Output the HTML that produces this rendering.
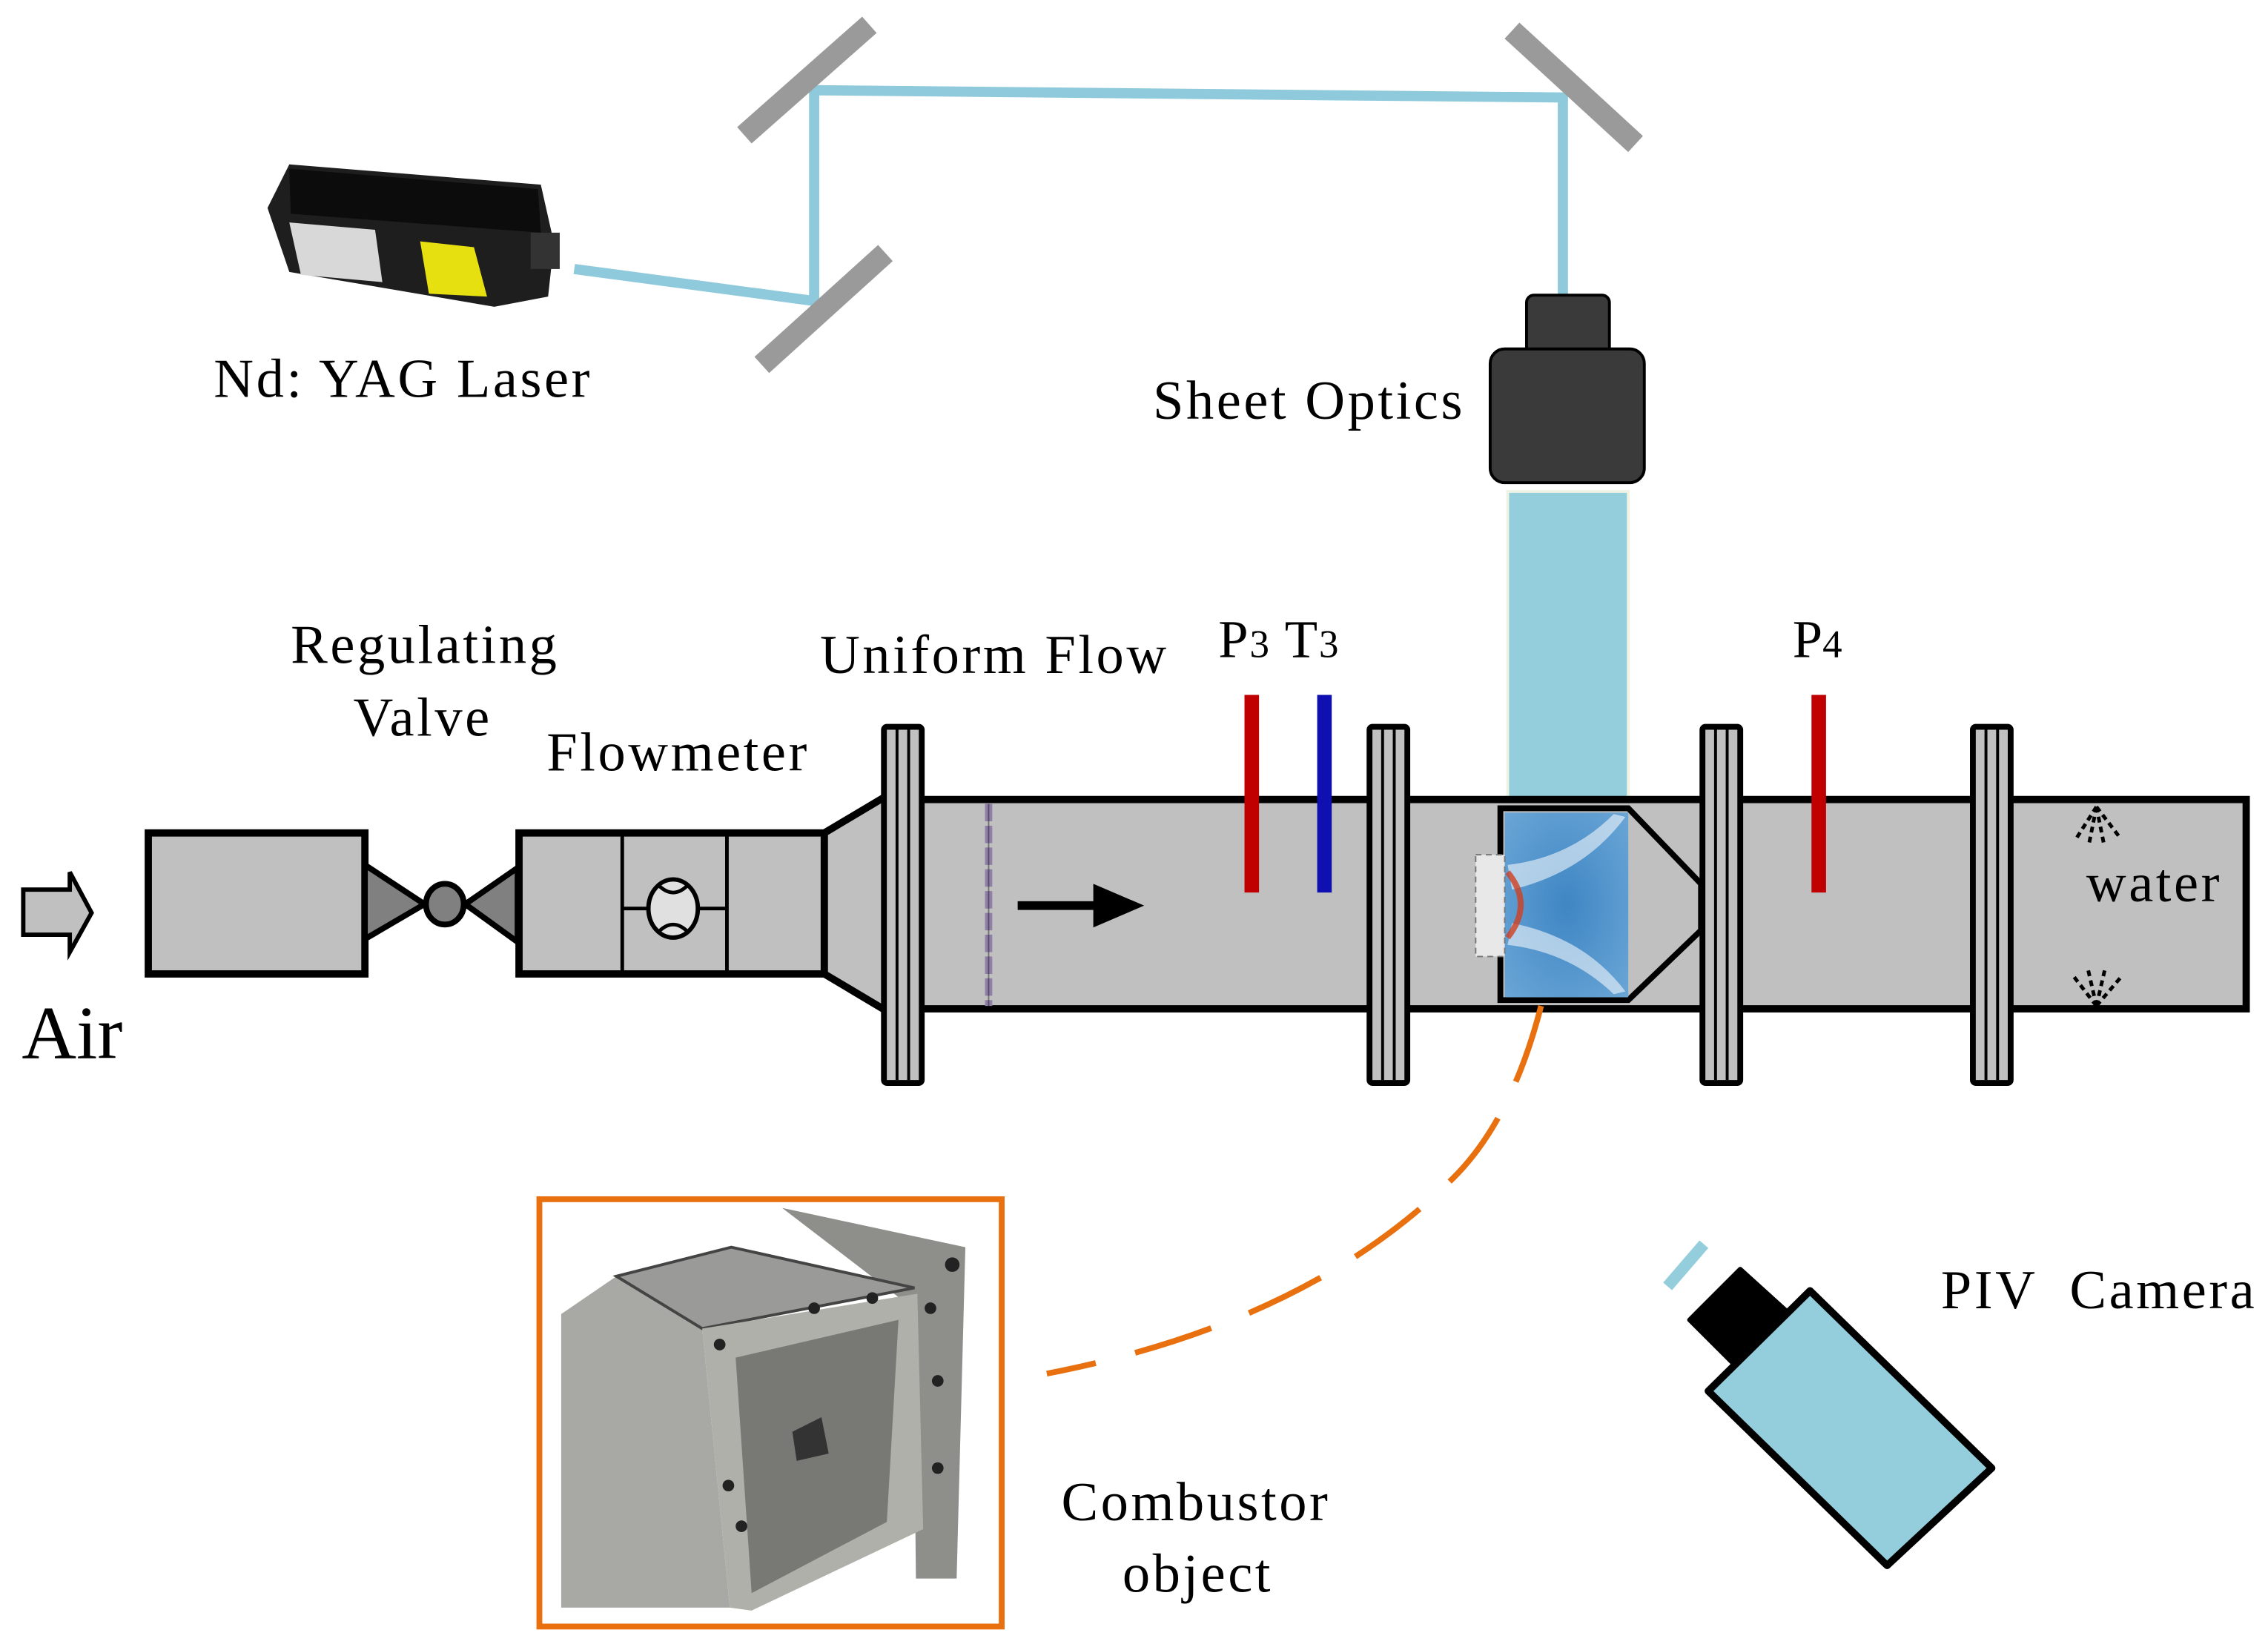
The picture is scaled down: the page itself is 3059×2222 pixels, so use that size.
<!DOCTYPE html>
<html><head><meta charset="utf-8"><style>html,body{margin:0;padding:0;background:#fff}svg{display:block}</style></head><body>
<svg width="3059" height="2222" viewBox="0 0 1560 1133" xmlns="http://www.w3.org/2000/svg" font-family="'Liberation Serif', serif">
<defs>
<radialGradient id="cg" cx="0.5" cy="0.5" r="0.7">
<stop offset="0" stop-color="#3f86c4"/><stop offset="1" stop-color="#6aa6d6"/>
</radialGradient>
</defs>
<rect width="1560" height="1133" fill="#fff"/>
<polyline points="395,185 560,207 560,62 1075,67 1075,212" fill="none" stroke="#8ecadb" stroke-width="7"/>
<line x1="512" y1="93" x2="598" y2="17" stroke="#9a9a9a" stroke-width="15"/>
<line x1="524" y1="251" x2="609" y2="174" stroke="#9a9a9a" stroke-width="15"/>
<line x1="1040" y1="21" x2="1125" y2="99" stroke="#9a9a9a" stroke-width="15"/>
<polygon points="184,143 199,113 372,127 381,167 377,204 340,211 199,187" fill="#1e1e1e"/>
<polygon points="199,116 370,130 372,160 200,147" fill="#0c0c0c"/>
<polygon points="199,153 258,158 263,194 207,189" fill="#d8d8d8"/>
<polygon points="289,166 326,170 335,204 295,202" fill="#e6e010"/>
<rect x="365" y="160" width="20" height="25" fill="#333"/>
<g font-size="38" letter-spacing="1.8">
<text x="147" y="273">Nd: YAG Laser</text>
<text x="793" y="288">Sheet Optics</text>
<text x="200" y="456">Regulating</text>
<text x="243" y="506">Valve</text>
<text x="376" y="530">Flowmeter</text>
<text x="564" y="463">Uniform Flow</text>
<text x="730" y="1046">Combustor</text>
<text x="772" y="1095">object</text>
<text x="1335" y="900" xml:space="preserve">PIV  Camera</text>
</g>
<rect x="1050" y="203" width="57" height="50" rx="5" fill="#3a3a3a" stroke="#000" stroke-width="2"/>
<rect x="1025" y="240" width="106" height="92" rx="10" fill="#3a3a3a" stroke="#000" stroke-width="2"/>
<rect x="1037" y="338" width="83" height="211" fill="#94cedc" stroke="#eef4e4" stroke-width="2"/>
<polygon points="16,612 48,612 48,600 63,628 48,655 48,643 16,643" fill="#c0c0c0" stroke="#000" stroke-width="3"/>
<text x="15" y="728" font-size="52">Air</text>
<rect x="102" y="573" width="149" height="97" fill="#c0c0c0" stroke="#000" stroke-width="5"/>
<polygon points="251,595 292,622 251,646" fill="#808080" stroke="#000" stroke-width="4"/>
<polygon points="356,597 320,622 356,648" fill="#808080" stroke="#000" stroke-width="4"/>
<ellipse cx="306" cy="622" rx="13" ry="14" fill="#808080" stroke="#000" stroke-width="4"/>
<rect x="357" y="573" width="210" height="97" fill="#c0c0c0" stroke="#000" stroke-width="5"/>
<line x1="428" y1="575" x2="428" y2="668" stroke="#000" stroke-width="2.5"/>
<line x1="500" y1="575" x2="500" y2="668" stroke="#000" stroke-width="2.5"/>
<line x1="428" y1="625" x2="500" y2="625" stroke="#000" stroke-width="2.5"/>
<ellipse cx="463" cy="625" rx="17" ry="20" fill="#e0e0e0" stroke="#000" stroke-width="3"/>
<path d="M452,608 Q463,620 474,608 M452,642 Q463,630 474,642" fill="none" stroke="#000" stroke-width="2.5"/>
<polygon points="567,573 609,548 609,695 567,670" fill="#c0c0c0" stroke="#000" stroke-width="5" stroke-linejoin="round"/>
<rect x="609" y="550" width="936" height="144" fill="#c0c0c0" stroke="#000" stroke-width="5"/>
<text x="1435" y="620" font-size="38" letter-spacing="1.8">water</text>
<line x1="680" y1="553" x2="680" y2="692" stroke="#9080a8" stroke-width="5" stroke-dasharray="12,3"/>
<line x1="680" y1="553" x2="680" y2="692" stroke="#000" stroke-width="1" opacity="0.4"/>
<line x1="700" y1="623" x2="760" y2="623" stroke="#000" stroke-width="6"/>
<polygon points="752,608 787,623 752,638" fill="#000"/>
<line x1="861" y1="478" x2="861" y2="614" stroke="#c00000" stroke-width="10"/>
<line x1="911" y1="478" x2="911" y2="614" stroke="#1010b0" stroke-width="10"/>
<line x1="1251" y1="478" x2="1251" y2="614" stroke="#c00000" stroke-width="10"/>
<text x="838" y="452" font-size="37" letter-spacing="1">P<tspan font-size="27">3</tspan> T<tspan font-size="27">3</tspan></text>
<text x="1233" y="452" font-size="37">P<tspan font-size="27">4</tspan></text>
<polygon points="1032,556 1120,556 1170,608 1170,640 1120,688 1032,688" fill="#c0c0c0" stroke="#000" stroke-width="4"/>
<rect x="1035" y="559" width="85" height="127" fill="url(#cg)"/>
<path d="M1037,595 Q1080,590 1110,560 L1118,562 Q1090,600 1040,612 Z" fill="#fff" opacity="0.55"/>
<path d="M1037,650 Q1080,655 1110,684 L1118,682 Q1090,645 1040,635 Z" fill="#fff" opacity="0.55"/>
<path d="M1037,600 Q1055,622 1037,645" fill="none" stroke="#d04020" stroke-width="4" opacity="0.8"/>
<rect x="1015" y="588" width="20" height="70" fill="#e8e8e8" stroke="#777" stroke-width="1" stroke-dasharray="4,3"/>
<g fill="#c0c0c0" stroke="#000" stroke-width="4">
<rect x="608" y="500" width="26" height="245" rx="2"/>
<rect x="942" y="500" width="26" height="245" rx="2"/>
<rect x="1171" y="500" width="26" height="245" rx="2"/>
<rect x="1357" y="500" width="26" height="245" rx="2"/>
</g>
<g stroke="#000" stroke-width="2">
<line x1="617" y1="502" x2="617" y2="743"/><line x1="625" y1="502" x2="625" y2="743"/>
<line x1="951" y1="502" x2="951" y2="743"/><line x1="959" y1="502" x2="959" y2="743"/>
<line x1="1180" y1="502" x2="1180" y2="743"/><line x1="1188" y1="502" x2="1188" y2="743"/>
<line x1="1366" y1="502" x2="1366" y2="743"/><line x1="1374" y1="502" x2="1374" y2="743"/>
</g>
<g stroke="#000" stroke-width="2.5" stroke-dasharray="4,3">
<line x1="1442" y1="555" x2="1428" y2="577"/><line x1="1442" y1="555" x2="1437" y2="580"/><line x1="1442" y1="555" x2="1447" y2="580"/><line x1="1442" y1="555" x2="1458" y2="576"/>
<line x1="1442" y1="692" x2="1425" y2="670"/><line x1="1442" y1="692" x2="1436" y2="666"/><line x1="1442" y1="692" x2="1448" y2="666"/><line x1="1442" y1="692" x2="1459" y2="672"/>
</g>
<path d="M1060,692 Q1040,770 1000,810 Q900,910 720,945" fill="none" stroke="#e8700f" stroke-width="4" stroke-dasharray="55,28"/>
<rect x="371" y="825" width="318" height="294" fill="#fff" stroke="#e8700f" stroke-width="4"/>
<polygon points="538,831 664,858 658,1086 630,1086 628,900" fill="#8e8e8a"/>
<polygon points="386,904 424,878 483,914 502,1106 386,1106" fill="#a8a8a4"/>
<polygon points="424,878 503,858 629,886 483,914" fill="#9a9a98" stroke="#444" stroke-width="2"/>
<polygon points="483,914 631,890 635,1052 517,1108 502,1106" fill="#b0b0aa"/>
<polygon points="506,934 618,908 610,1047 517,1096" fill="#787874"/>
<polygon points="545,985 565,975 570,1000 548,1005" fill="#333"/>
<g fill="#222"><circle cx="495" cy="925" r="4"/><circle cx="560" cy="900" r="4"/><circle cx="600" cy="893" r="4"/><circle cx="501" cy="1022" r="4"/><circle cx="510" cy="1050" r="4"/><circle cx="640" cy="900" r="4"/><circle cx="645" cy="950" r="4"/><circle cx="645" cy="1010" r="4"/><circle cx="655" cy="870" r="5"/></g>
<line x1="1172" y1="856" x2="1147" y2="885" stroke="#94cedc" stroke-width="8"/>
<polygon points="1197,873 1162,908 1192,938 1229,902" fill="#000" stroke="#000" stroke-width="3" stroke-linejoin="round"/>
<polygon points="1245,888 1370,1010 1298,1077 1175,957" fill="#94cedc" stroke="#000" stroke-width="5" stroke-linejoin="round"/>
</svg>
</body></html>
